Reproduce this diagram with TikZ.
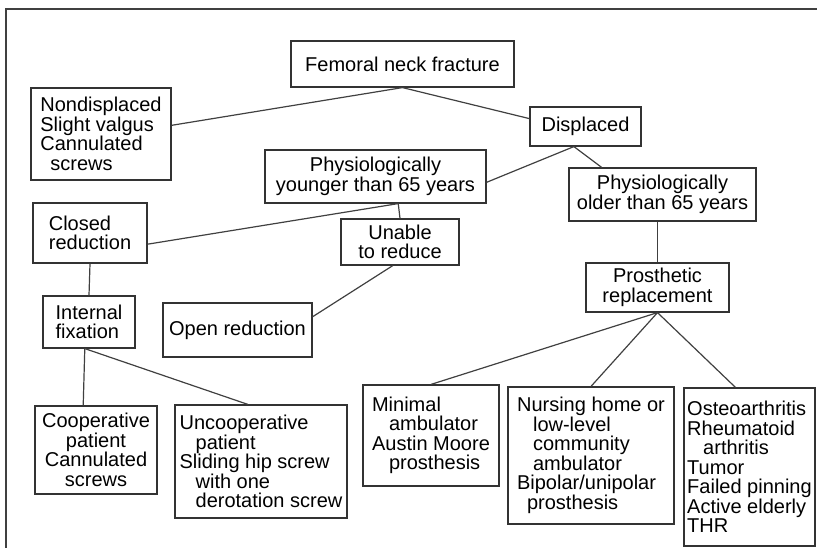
\documentclass[tikz,border=0pt]{standalone}
\usepackage{fontspec}
\setmainfont{Liberation Sans}

\begin{document}
\begin{tikzpicture}[x=1pt,y=-1pt,
  box/.style={draw=black!80, line width=1.2pt, inner sep=2pt,
    font=\fontsize{20}{19.5}\selectfont},
  link/.style={draw=black!75, line width=1.2pt}]
  \useasboundingbox (0,0) rectangle (817,548);

  % Frame (top and left edge only)
  \draw[link] (6,548) -- (6,9) -- (817,9);

  % Top of the tree
  \node[box, minimum width=223pt, minimum height=46pt] (fracture) at (402.5,64) {Femoral neck fracture};
  \node[box, minimum width=140pt, minimum height=92pt, align=left] (nondisp) at (101,134)
    {Nondisplaced\\Slight valgus\\Cannulated\\\hspace*{10pt}screws};
  \node[box, minimum width=111pt, minimum height=39pt] (disp) at (585.5,126.5) {Displaced};

  % Age groups
  \node[box, minimum width=221pt, minimum height=53pt, align=center] (younger) at (375.5,176.5)
    {Physiologically\\younger than 65 years};
  \node[box, minimum width=187pt, minimum height=53pt, align=center] (older) at (662.5,194.5)
    {Physiologically\\older than 65 years};

  % Younger branch
  \node[box, minimum width=114pt, minimum height=60pt, align=left] (closed) at (90,233) {Closed\\reduction};
  \node[box, minimum width=118pt, minimum height=46pt, align=center] (unable) at (400,242) {Unable\\to reduce};
  \node[box, minimum width=92pt, minimum height=52pt, align=left] (fixation) at (89,322) {Internal\\fixation};
  \node[box, minimum width=149pt, minimum height=54pt] (open) at (237.5,330) {Open reduction};
  \node[box, minimum width=122pt, minimum height=88pt, align=center] (coop) at (96,450)
    {Cooperative\\patient\\Cannulated\\screws};
  \node[box, minimum width=172pt, minimum height=113pt, align=left] (uncoop) at (261,461.5)
    {Uncooperative\\\hspace*{16pt}patient\\Sliding hip screw\\\hspace*{16pt}with one\\\hspace*{16pt}derotation screw};

  % Older branch
  \node[box, minimum width=143pt, minimum height=49pt, align=center] (prosth) at (657.5,287.5)
    {Prosthetic\\replacement};
  \node[box, minimum width=136pt, minimum height=101pt, align=left] (minimal) at (431,435.5)
    {Minimal\\\hspace*{17pt}ambulator\\Austin Moore\\\hspace*{17pt}prosthesis};
  \node[box, minimum width=166pt, minimum height=137pt, align=left] (nursing) at (591,455.5)
    {Nursing home or\\\hspace*{16pt}low-level\\\hspace*{16pt}community\\\hspace*{16pt}ambulator\\Bipolar/unipolar\\\hspace*{10pt}prosthesis};
  \node[box, minimum width=131pt, minimum height=158pt, align=left] (osteo) at (749.5,467)
    {Osteoarthritis\\Rheumatoid\\\hspace*{16pt}arthritis\\Tumor\\Failed pinning\\Active elderly\\THR};

  % Connectors
  \draw[link] (fracture.south) -- (nondisp.7);
  \draw[link] (fracture.south) -- (disp.172);
  \draw[link] (disp.-120) -- (younger.-3);
  \draw[link] (disp.-120) -- (older.156);
  \draw[link] (younger.-50) -- (closed.-11);
  \draw[link] (younger.-50) -- (unable.north);
  \draw[link] (unable.-107) -- (open.10);
  \draw[link] (closed.south) -- (fixation.north);
  \draw[link] (fixation.-99) -- (coop.106);
  \draw[link] (fixation.-99) -- (uncoop.103);
  \draw[link] (older.south -| prosth.north) -- (prosth.north);
  \draw[link] (prosth.south) -- (minimal.north);
  \draw[link] (prosth.south) -- (nursing.north);
  \draw[link] (prosth.south) -- (osteo.100);
\end{tikzpicture}
\end{document}
